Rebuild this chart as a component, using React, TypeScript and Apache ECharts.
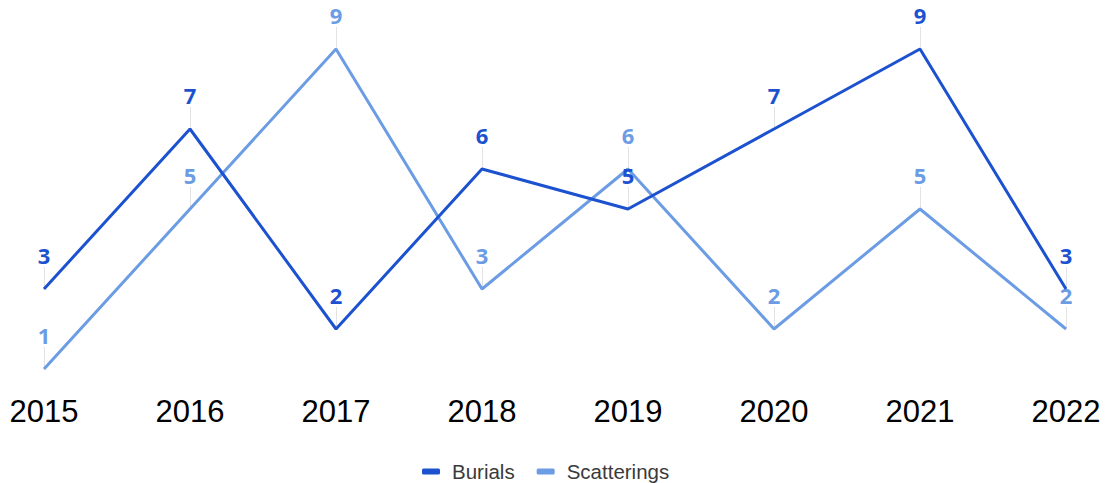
import React, { useEffect, useRef } from "react";
import * as echarts from "echarts";

const years = ["2015", "2016", "2017", "2018", "2019", "2020", "2021", "2022"];
const burials = [3, 7, 2, 6, 5, 7, 9, 3];
const scatterings = [1, 5, 9, 3, 6, 2, 5, 2];

const seriesNames = ["Burials", "Scatterings"];
const colors = ["#1c52cf", "#6b9ce4"];

const LEADER = 0.55;

function leaders(values: number[]) {
  return values.map((v, i) => [
    { coord: [i, v] },
    { coord: [i, v + LEADER] },
  ]);
}

export default function App() {
  const ref = useRef<HTMLDivElement>(null);
  useEffect(() => {
    if (!ref.current) return;
    const chart = echarts.init(ref.current, undefined, { renderer: "svg" });
    const mk = (name: string, data: number[], color: string, z: number) => ({
      name,
      type: "line",
      data,
      z,
      symbol: "circle",
      symbolSize: 0,
      lineStyle: { color, width: 3 },
      itemStyle: { color },
      label: {
        show: true,
        position: "top",
        distance: 23,
        color,
        fontSize: 22,
        lineHeight: 22,
        fontWeight: "bold",
        fontFamily: "Noto Sans",
      },
      markLine: {
        silent: true,
        symbol: ["none", "none"],
        label: { show: false },
        lineStyle: { color: "#e3e3e3", width: 1, type: "solid" },
        data: leaders(data),
        z: 1,
      },
    });
    chart.setOption({
      animation: false,
      color: colors,
      grid: { left: 44, right: 54, top: 9, height: 400 },
      xAxis: {
        type: "category",
        data: years,
        boundaryGap: false,
        axisLine: { show: false },
        axisTick: { show: false },
        splitLine: { show: false },
        axisLabel: {
          fontSize: 31,
          color: "#000",
          fontFamily: "Liberation Sans",
          verticalAlign: "middle",
          margin: 2,
        },
      },
      yAxis: {
        type: "value",
        min: 0,
        max: 10,
        show: false,
        splitLine: { show: false },
      },
      legend: {
        top: 456,
        left: 417,
        icon: "roundRect",
        itemWidth: 18,
        itemHeight: 6,
        itemGap: 22,
        textStyle: {
          fontSize: 20.5,
          color: "#3a3a3a",
          fontFamily: "Liberation Sans",
          padding: [0, 0, 0, 7],
        },
        data: seriesNames,
      },
      series: [
        mk(seriesNames[1], scatterings, colors[1], 2),
        mk(seriesNames[0], burials, colors[0], 3),
      ],
    });
    return () => chart.dispose();
  }, []);
  return (
    <div
      ref={ref}
      style={{ position: "absolute", left: 0, top: 0, width: 1120, height: 483 }}
    />
  );
}
